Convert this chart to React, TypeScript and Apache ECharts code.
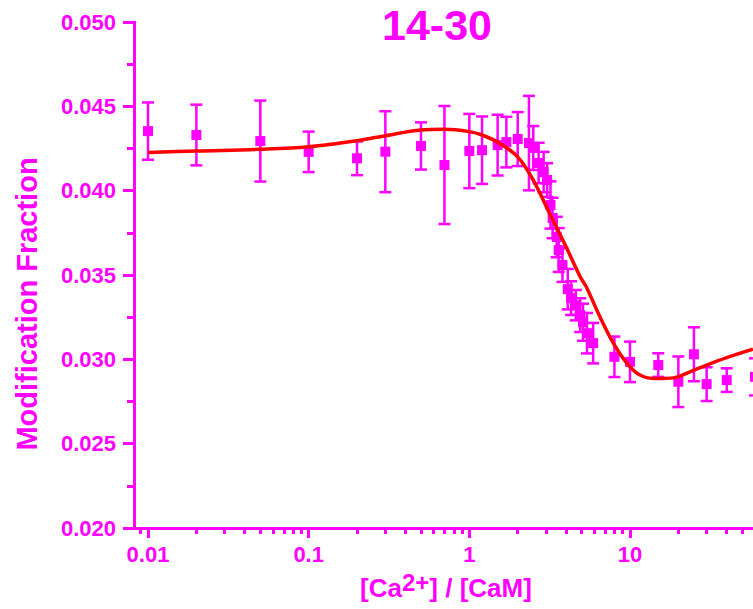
import React, { useEffect, useRef } from 'react';
import * as echarts from 'echarts';

const MAGENTA = '#FF00FF';
const RED = '#FF0000';

// Measured data: [Ca2+]/[CaM] ratio, modification fraction, error (±)
const ratioValues = [0.01, 0.02, 0.05, 0.1, 0.2, 0.3, 0.5, 0.7, 1.0, 1.2, 1.5, 1.7, 2.0, 2.35, 2.5, 2.7, 2.9, 3.05, 3.2, 3.3, 3.5, 3.6, 3.8, 4.1, 4.3, 4.6, 4.9, 5.1, 5.4, 5.9, 8, 10, 15, 20, 25, 30, 40, 60];
const fractionValues = [0.04353, 0.0433, 0.04294, 0.0423, 0.04192, 0.04231, 0.04265, 0.04152, 0.04235, 0.0424, 0.0427, 0.04288, 0.04306, 0.04282, 0.04253, 0.04164, 0.0411, 0.04063, 0.03915, 0.03838, 0.03725, 0.03648, 0.03559, 0.03416, 0.03363, 0.03321, 0.03262, 0.0322, 0.03155, 0.03096, 0.03015, 0.02985, 0.02966, 0.02867, 0.0303, 0.02853, 0.02877, 0.02896];
const fractionErrors = [0.0017, 0.0018, 0.0024, 0.0012, 0.001, 0.0024, 0.0014, 0.0035, 0.0022, 0.002, 0.0018, 0.0015, 0.0016, 0.0028, 0.0013, 0.0012, 0.0012, 0.001, 0.0014, 0.0012, 0.0012, 0.0013, 0.001, 0.0012, 0.001, 0.0009, 0.001, 0.0011, 0.0012, 0.0012, 0.0012, 0.0012, 0.0007, 0.0015, 0.0016, 0.001, 0.0007, 0.0011];

// Fitted curve
const curveRatios = [0.01, 0.02, 0.05, 0.1, 0.2, 0.3, 0.5, 0.7, 1.0, 1.2, 1.55, 2.0, 2.5, 3.16, 4.0, 4.9, 5.34, 6.5, 7.9, 9.6, 11.6, 14.7, 18.6, 23.6, 30, 40, 58.3];
const curveFractions = [0.04226, 0.04235, 0.04245, 0.0426, 0.04296, 0.04326, 0.0436, 0.04364, 0.0435, 0.0433, 0.0428, 0.042, 0.04063, 0.03865, 0.03667, 0.03489, 0.0343, 0.03252, 0.03094, 0.02975, 0.02906, 0.02886, 0.0289, 0.02926, 0.02966, 0.0301, 0.0306];

// Axis settings
const xRangeRatio = [0.00818, 58.3];
const xMajorTicks = [0.01, 0.1, 1, 10];
const yRange = [0.02, 0.05];
const yInterval = 0.005;

const lg = (v: number) => Math.log10(v);

export default function App() {
  const ref = useRef<HTMLDivElement>(null);
  useEffect(() => {
    if (!ref.current) return;
    const chart = echarts.init(ref.current, undefined, { renderer: 'svg' });
    const xMin = lg(xRangeRatio[0]);
    const xMax = lg(xRangeRatio[1]);
    const minorTicks: number[] = [];
    for (let d = -3; d <= 1; d++) {
      for (let k = 2; k <= 9; k++) {
        const v = lg(k * Math.pow(10, d));
        if (v >= xMin && v <= xMax) minorTicks.push(v);
      }
    }
    const majorTicks = xMajorTicks.map(lg);
    const points = ratioValues.map((r, i) => [lg(r), fractionValues[i], fractionErrors[i]]);
    const curve = curveRatios.map((r, i) => [lg(r), curveFractions[i]]);
    const labelFont = { fontFamily: '"Liberation Sans", Arial, sans-serif', fontWeight: 'bold' as const, fontSize: 22, color: MAGENTA };

    chart.setOption({
      animation: false,
      backgroundColor: '#FFFFFF',
      grid: { left: 134, right: 0, top: 22, bottom: 81, containLabel: false },
      xAxis: [
        {
          type: 'value', min: xMin, max: xMax,
          axisLine: { show: true, onZero: false, lineStyle: { color: MAGENTA, width: 3 } },
          axisTick: { show: true, inside: false, length: 10, customValues: majorTicks, lineStyle: { color: MAGENTA, width: 3 } },
          axisLabel: {
            ...labelFont, margin: 15, customValues: majorTicks,
            formatter: (v: number) => String(xMajorTicks[majorTicks.findIndex((m) => Math.abs(m - v) < 1e-6)] ?? ''),
          },
          splitLine: { show: false },
        },
        {
          type: 'value', min: xMin, max: xMax, position: 'bottom',
          axisLine: { show: false, onZero: false },
          axisTick: { show: true, inside: false, length: 6, customValues: minorTicks, lineStyle: { color: MAGENTA, width: 3 } },
          axisLabel: { show: false },
          splitLine: { show: false },
        },
      ],
      yAxis: {
        type: 'value', min: yRange[0], max: yRange[1], interval: yInterval,
        axisLine: { show: true, onZero: false, lineStyle: { color: MAGENTA, width: 3 } },
        axisTick: { show: true, inside: false, length: 11, lineStyle: { color: MAGENTA, width: 3 } },
        minorTick: { show: true, splitNumber: 2, length: 7, lineStyle: { color: MAGENTA, width: 3 } },
        axisLabel: { ...labelFont, margin: 18, formatter: (v: number) => v.toFixed(3) },
        splitLine: { show: false },
        minorSplitLine: { show: false },
      },
      series: [
        {
          type: 'custom',
          name: 'error',
          xAxisIndex: 0,
          data: points,
          encode: { x: 0, y: 1 },
          clip: false,
          z: 3,
          renderItem: (_params: any, api: any) => {
            const x = api.value(0), y = api.value(1), e = api.value(2);
            const top = api.coord([x, y + e]);
            const bot = api.coord([x, y - e]);
            const hw = 6;
            const style = { stroke: MAGENTA, lineWidth: 2.5, fill: null };
            return {
              type: 'group',
              children: [
                { type: 'line', shape: { x1: top[0], y1: top[1], x2: bot[0], y2: bot[1] }, style },
                { type: 'line', shape: { x1: top[0] - hw, y1: top[1], x2: top[0] + hw, y2: top[1] }, style },
                { type: 'line', shape: { x1: bot[0] - hw, y1: bot[1], x2: bot[0] + hw, y2: bot[1] }, style },
              ],
            };
          },
        },
        {
          type: 'scatter',
          name: 'data',
          xAxisIndex: 0,
          data: points.map((p) => [p[0], p[1]]),
          symbol: 'rect',
          symbolSize: 10,
          clip: false,
          itemStyle: { color: MAGENTA, opacity: 1 },
          z: 4,
        },
        {
          type: 'line',
          name: 'fit',
          xAxisIndex: 0,
          data: curve,
          smooth: 0.35,
          showSymbol: false,
          symbol: 'none',
          clip: false,
          lineStyle: { color: RED, width: 3.5 },
          z: 5,
        },
      ],
      graphic: [
        {
          type: 'text', x: 437, y: 3,
          style: { text: '14-30', fill: MAGENTA, font: 'bold 43px "Liberation Sans", Arial, sans-serif', textAlign: 'center', textVerticalAlign: 'top' },
        },
        {
          type: 'text', x: 27, y: 304, rotation: Math.PI / 2,
          style: { text: 'Modification Fraction', fill: MAGENTA, font: 'bold 29px "Liberation Sans", Arial, sans-serif', textAlign: 'center', textVerticalAlign: 'middle' },
        },
        {
          type: 'text', x: 446, y: 588,
          style: {
            text: '{n|[Ca}{s|2+}{n|] / [CaM]}',
            textAlign: 'center', textVerticalAlign: 'middle',
            rich: {
              n: { fill: MAGENTA, fontSize: 26, fontWeight: 'bold', fontFamily: '"Liberation Sans", Arial, sans-serif' },
              s: { fill: MAGENTA, fontSize: 24, fontWeight: 'bold', fontFamily: '"Liberation Sans", Arial, sans-serif', padding: [0, 0, 12, 0] },
            },
          },
        },
      ],
    });
    return () => chart.dispose();
  }, []);
  return <div ref={ref} style={{ position: 'absolute', left: 0, top: 0, width: 753, height: 609 }} />;
}
